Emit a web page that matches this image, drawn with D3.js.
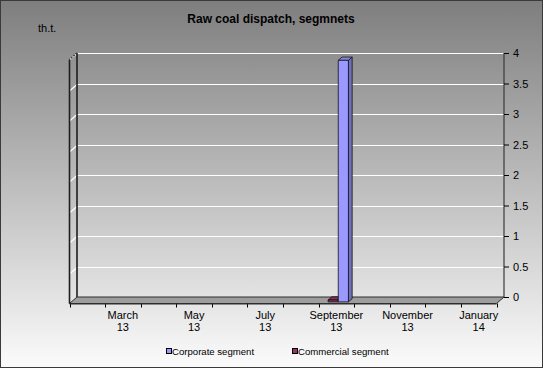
<!DOCTYPE html>
<html>
<head>
<meta charset="utf-8">
<script src="https://cdn.jsdelivr.net/npm/d3@7"></script>
<style>
  html, body { margin: 0; padding: 0; background: #fff; }
  svg { display: block; }
  text { font-family: "Liberation Sans", Arial, sans-serif; }
</style>
</head>
<body>
<div id="chart"></div>
<script>
// ---- data ----
const categories = ["February 13","March 13","April 13","May 13","June 13","July 13",
                    "August 13","September 13","October 13","November 13","December 13","January 14"];
const monthLabels = ["February","March","April","May","June","July",
                     "August","September","October","November","December","January"];
const yearLabels = ["13","13","13","13","13","13","13","13","13","13","13","14"];
const shownCategories = ["March 13","May 13","July 13","September 13","November 13","January 14"];
const corporate = [0,0,0,0,0,0,0,3.96,0,0,0,0];
const commercial = [0,0,0,0,0,0,0,0.03,0,0,0,0];
const seriesNames = ["Corporate segment","Commercial segment"];
const seriesColors = ["#9999ff","#993366"];
const valueTicks = [0,0.5,1,1.5,2,2.5,3,3.5,4];
const valueTickLabels = ["0","0.5","1","1.5","2","2.5","3","3.5","4"];
const titleText = "Raw coal dispatch, segmnets";
const unitText = "th.t.";

// ---- layout ----
const W = 543, H = 368;
const DX = -7.5, DY = 6.5; // depth offset back -> front

const svg = d3.select("#chart").append("svg").attr("width", W).attr("height", H);
const defs = svg.append("defs");
const bg = defs.append("linearGradient").attr("id","bg").attr("x1",0).attr("y1",0).attr("x2",0).attr("y2",1);
bg.append("stop").attr("offset","0%").attr("stop-color","#7e7e7e");
bg.append("stop").attr("offset","100%").attr("stop-color","#fbfbfb");

svg.append("rect").attr("x",0.5).attr("y",0.5).attr("width",W-1).attr("height",H-1)
   .attr("fill","url(#bg)").attr("stroke","#3a3a3a");

const x = d3.scaleBand().domain(categories).range([77, 504]).paddingInner(0).paddingOuter(0);
const y = d3.scaleLinear().domain([0, 4]).range([297, 53]);

function P(xb, v, d) { return [xb + d*DX, y(v) + d*DY]; }
const line = d3.line();

const g = svg.append("g");

// floor
const x0 = x.range()[0], x1 = x.range()[1];
g.append("path")
  .attr("d", line([P(x0,0,0), P(x1,0,0), P(x1,0,1), P(x0,0,1)]) + "Z")
  .attr("fill","#9d9d9d").attr("stroke","#2e2e2e").attr("stroke-width",1);

// gridlines: back wall + side wall
valueTicks.forEach(v => {
  const yy = Math.round(y(v)) + 0.5;
  if (v > 0) {
    g.append("line").attr("x1",x0).attr("x2",x1).attr("y1",yy).attr("y2",yy)
      .attr("stroke","#ffffff").attr("stroke-width",1.2);
    g.append("line").attr("x1",x0).attr("y1",yy).attr("x2",x0+DX).attr("y2",yy+DY)
      .attr("stroke","#ffffff").attr("stroke-width",1.2);
  }
});

// wall edges
g.append("line").attr("x1",x0).attr("x2",x0).attr("y1",y(4)).attr("y2",y(0))
  .attr("stroke","#1e1e1e").attr("stroke-width",1.6);
g.append("line").attr("x1",x1).attr("x2",x1).attr("y1",y(4)).attr("y2",y(0))
  .attr("stroke","#3a3a3a").attr("stroke-width",1.2);
g.append("line").attr("x1",x0+DX).attr("x2",x0+DX).attr("y1",y(4)+DY).attr("y2",y(0)+DY)
  .attr("stroke","#1e1e1e").attr("stroke-width",1.6);
g.append("line").attr("x1",x0).attr("y1",y(4)).attr("x2",x0+DX).attr("y2",y(4)+DY)
  .attr("stroke","#333").attr("stroke-width",1.4).attr("stroke-dasharray","2,1");

// bars
const bw = x.bandwidth() / 3.5;
const gap = bw * 0.75;
const dFront = 0.75, dBack = 0.25;
const series = [
  {name: seriesNames[1], values: commercial, color: seriesColors[1], slot: 0},
  {name: seriesNames[0], values: corporate, color: seriesColors[0], slot: 1}
];
series.forEach(s => {
  s.values.forEach((v, i) => {
    if (!(v > 0)) return;
    const xl = x(categories[i]) + gap + s.slot * bw;
    const xr = xl + bw;
    const c = d3.color(s.color);
    // side face
    g.append("path")
      .attr("d", line([P(xr,0,dFront), P(xr,0,dBack), P(xr,v,dBack), P(xr,v,dFront)]) + "Z")
      .attr("fill", c.darker(0.9)).attr("stroke","#111").attr("stroke-width",0.8);
    // top face
    g.append("path")
      .attr("d", line([P(xl,v,dFront), P(xr,v,dFront), P(xr,v,dBack), P(xl,v,dBack)]) + "Z")
      .attr("fill", c.darker(0.3)).attr("stroke","#111").attr("stroke-width",0.8);
    // front face
    g.append("path")
      .attr("d", line([P(xl,0,dFront), P(xr,0,dFront), P(xr,v,dFront), P(xl,v,dFront)]) + "Z")
      .attr("fill", s.color).attr("stroke","#111").attr("stroke-width",0.8);
  });
});

// value axis (right)
const yAxis = d3.axisRight(y).tickValues(valueTicks)
  .tickFormat((d,i) => valueTickLabels[i]).tickSize(5).tickPadding(4);
const ya = svg.append("g").attr("transform", `translate(${x1},0)`).call(yAxis);
ya.select(".domain").remove();
ya.selectAll(".tick line").attr("stroke","#000");
ya.selectAll(".tick text").attr("font-size","11px").attr("fill","#000")
  .attr("font-family","'Liberation Sans', Arial, sans-serif");

// category axis (front floor edge)
const xFront = x.copy().range([x0 + DX, x1 + DX]);
const xa = svg.append("g").attr("transform", `translate(0,${y(0)+DY})`);
const tickPos = categories.map(c => xFront(c)).concat([x1 + DX]);
xa.selectAll("line.tk").data(tickPos).join("line")
  .attr("x1", d => Math.round(d)+0.5).attr("x2", d => Math.round(d)+0.5)
  .attr("y1", 0).attr("y2", 4).attr("stroke","#000");
xa.append("line").attr("x1", x0+DX).attr("x2", x1+DX).attr("y1",0.5).attr("y2",0.5).attr("stroke","#2e2e2e");
const lab = xa.selectAll("text.cat").data(categories.filter(c => shownCategories.includes(c))).join("text")
  .attr("text-anchor","middle").attr("font-size","11px").attr("fill","#000")
  .attr("transform", c => `translate(${xFront(c) + xFront.bandwidth()/2},0)`);
lab.append("tspan").attr("x",0).attr("y",15).text(c => monthLabels[categories.indexOf(c)]);
lab.append("tspan").attr("x",0).attr("y",27).text(c => yearLabels[categories.indexOf(c)]);

// title & unit
svg.append("text").attr("x", 271).attr("y", 23).attr("text-anchor","middle")
  .attr("font-size","12px").attr("font-weight","bold").attr("fill","#000").text(titleText);
svg.append("text").attr("x", 38).attr("y", 32)
  .attr("font-size","11px").attr("fill","#000").text(unitText);

// legend
const legendX = [166, 292];
seriesNames.forEach((n, i) => {
  const lg = svg.append("g").attr("transform", `translate(${legendX[i]},0)`);
  lg.append("rect").attr("x",0.5).attr("y",348.5).attr("width",5).attr("height",5)
    .attr("fill", seriesColors[i]).attr("stroke","#000").attr("stroke-width",1);
  lg.append("text").attr("x",6).attr("y",355).attr("font-size","9.6px").attr("fill","#000").text(n);
});
</script>
</body>
</html>
